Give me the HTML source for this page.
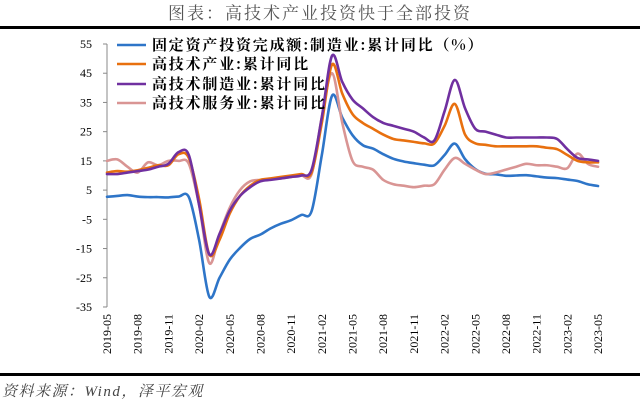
<!DOCTYPE html>
<html><head><meta charset="utf-8"><style>
body{margin:0;background:#fff;}
svg{display:block;font-family:"Liberation Serif","Noto Serif CJK SC",serif;}
</style></head><body>
<svg id="s" width="640" height="404" viewBox="0 0 640 404">
<text x="320" y="19" text-anchor="middle" font-size="17" letter-spacing="2" fill="#555" font-family="Liberation Serif,'Noto Serif CJK SC',serif">图表：高技术产业投资快于全部投资</text>
<rect x="0" y="26" width="640" height="3" fill="#000"/>
<rect x="0" y="373" width="640" height="3" fill="#000"/>
<text x="2" y="396" font-size="15" letter-spacing="1.5" fill="#444" font-style="italic" font-family="Liberation Serif,'Noto Serif CJK SC',serif">资料来源：Wind，泽平宏观</text>
<g id="ax"></g>
<g id="lines" fill="none" stroke-width="2.6" stroke-linejoin="round" stroke-linecap="round"></g>
<g font-size="15" letter-spacing="1.8" font-weight="bold" fill="#000" font-family="'Noto Serif CJK SC',serif">
<line x1="117" y1="45" x2="146" y2="45" stroke="#2E75C8" stroke-width="2.6"/><text x="152" y="50">固定资产投资完成额:制造业:累计同比（%）</text>
<line x1="117" y1="64" x2="146" y2="64" stroke="#E8700F" stroke-width="2.6"/><text x="152" y="69">高技术产业:累计同比</text>
<line x1="117" y1="84" x2="146" y2="84" stroke="#7030A0" stroke-width="2.6"/><text x="152" y="89">高技术制造业:累计同比</text>
<line x1="117" y1="103" x2="146" y2="103" stroke="#D99594" stroke-width="2.6"/><text x="152" y="108">高技术服务业:累计同比</text>
</g>
</svg>
<script>
var X=function(i){return 107+i*10.23},Y=function(v){return 44+(55-v)*2.922};
var ax=document.getElementById('ax'),h='';
h+='<line x1="107" y1="44" x2="107" y2="307" stroke="#888"/>';
for(var v=55;v>=-35;v-=10){var y=Y(v);h+='<line x1="103" y1="'+y+'" x2="107" y2="'+y+'" stroke="#888"/><text x="92" y="'+(y+4)+'" font-size="12" text-anchor="end">'+v+'</text>';}
var labs=['2019-05','2019-08','2019-11','2020-02','2020-05','2020-08','2020-11','2021-02','2021-05','2021-08','2021-11','2022-02','2022-05','2022-08','2022-11','2023-02','2023-05'];
labs.forEach(function(l,k){var x=X(k*3)+4;h+='<text transform="translate('+x+',314) rotate(-90)" font-size="12" text-anchor="end">'+l+'</text>';});
ax.innerHTML=h;
var D={
'#2E75C8':[2.7,3.0,3.3,2.8,2.6,2.6,2.5,2.8,2.6,-12,-31.5,-25,-18.8,-14.8,-11.7,-10.2,-8.1,-6.5,-5.3,-3.5,-2.2,17,37.3,29.8,23.8,20.4,19.2,17.3,15.7,14.8,14.2,13.7,13.5,17,20.9,15.6,12.2,10.6,10.4,9.9,10.0,10.1,9.7,9.3,9.1,8.6,8.1,7.0,6.4],
'#D99594':[15,15.5,13,11,14.5,13.5,15,15,14,0,-20,-10,-1,5,8,8.5,8.8,9,9.5,10,10.5,30,45,28,15,13,12,8.5,7,6.5,6,6.5,7,12,16,14,12,10.5,11,12,13,14,13.5,13.5,13,12.5,17.5,14,13],
'#E8700F':[11,11.5,11.3,11.8,12.6,13.5,13.5,17.3,16,2,-17,-12,-3,3,6.5,8.5,9,9.5,10,10.5,11,28,48,38,31,28,26,24,22.5,22,21.5,21,21,27,34.5,24,21,20.5,20,20,20,20,20,19.5,19,17,15,14.5,14.5],
'#7030A0':[10.5,10.5,11,11.5,12,13,14,18,17,0,-17,-10,-2,3,6,8,8.5,9,9.5,10,12,30,51,42,36,33,30,28,27,26,25,23,22,32,42.7,33,26,25,24,23,23,23,23,23,22.5,19,16,15.5,15]};
var g='';
for(var c in D){var a=D[c],p=a.map(function(v,i){return [X(i),Y(v)]});
var d='M'+p[0][0]+','+p[0][1];
for(var i=0;i<p.length-1;i++){var p0=p[i-1]||p[i],p1=p[i],p2=p[i+1],p3=p[i+2]||p2,t=6;
d+=' C'+(p1[0]+(p2[0]-p0[0])/t)+','+(p1[1]+(p2[1]-p0[1])/t)+' '+(p2[0]-(p3[0]-p1[0])/t)+','+(p2[1]-(p3[1]-p1[1])/t)+' '+p2[0]+','+p2[1];}
g+='<path d="'+d+'" stroke="'+c+'"/>';}
document.getElementById('lines').innerHTML=g;
</script>
</body></html>
